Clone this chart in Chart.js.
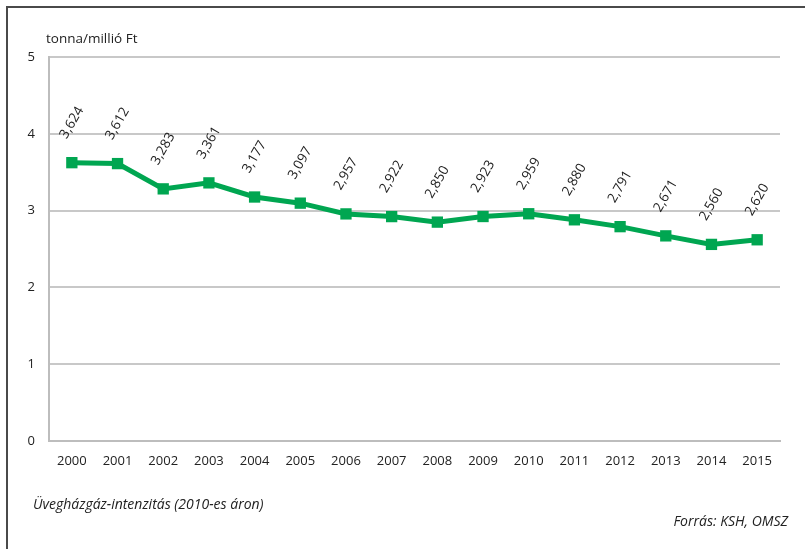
<!DOCTYPE html>
<html lang="hu">
  <head>
    <meta charset="UTF-8" />
    <title>Üvegházgáz-intenzitás</title>
    <script src="https://cdn.jsdelivr.net/npm/chart.js"></script>
    <style>
      body {
        margin: 0;
        background: #ffffff;
        font-family: "Open Sans", sans-serif;
        color: #222;
      }
      .wrap {
        position: relative;
        width: 805px;
        height: 549px;
        overflow: hidden;
      }
      .frame {
        position: absolute;
        left: 6px;
        top: 6px;
        width: 820px;
        height: 560px;
        border-left: 2px solid #4a4a4a;
        border-top: 2px solid #4a4a4a;
      }
      canvas {
        position: absolute;
        left: 0;
        top: 0;
      }
      .unit {
        position: absolute;
        left: 46px;
        top: 29px;
        font-size: 13.5px;
      }
      .note {
        position: absolute;
        left: 33px;
        top: 494px;
        font-size: 14px;
        font-style: italic;
      }
      .source {
        position: absolute;
        right: 17px;
        top: 511px;
        font-size: 14px;
        font-style: italic;
      }
    </style>
  </head>
  <body>
    <div class="wrap">
      <div class="frame"></div>
      <canvas id="grafikon" width="805" height="549"></canvas>
      <div class="unit">tonna/millió Ft</div>
      <div class="note">Üvegházgáz-intenzitás (2010-es áron)</div>
      <div class="source">Forrás: KSH, OMSZ</div>
    </div>

    <script>
      // Évek és intenzitás értékek
      const evek = ["2000", "2001", "2002", "2003", "2004", "2005", "2006", "2007",
        "2008", "2009", "2010", "2011", "2012", "2013", "2014", "2015"];
      const intenzitas = [3.624, 3.612, 3.283, 3.361, 3.177, 3.097, 2.957, 2.922,
        2.85, 2.923, 2.959, 2.88, 2.791, 2.671, 2.56, 2.62];

      const zold = "#00a651";

      // Elforgatott értékcímkék a pontok fölött
      const cimkek = {
        id: "cimkek",
        afterDatasetsDraw(chart) {
          const ctx = chart.ctx;
          const meta = chart.getDatasetMeta(0);
          ctx.save();
          ctx.font = "13.5px 'Open Sans', sans-serif";
          ctx.fillStyle = "#222";
          ctx.textAlign = "center";
          ctx.textBaseline = "middle";
          meta.data.forEach((pont, i) => {
            const szoveg = intenzitas[i].toFixed(3).replace(".", ",");
            ctx.save();
            ctx.translate(pont.x, pont.y - 40);
            ctx.rotate(-Math.PI / 3);
            ctx.fillText(szoveg, 0, 0);
            ctx.restore();
          });
          ctx.restore();
        },
      };

      new Chart(document.getElementById("grafikon"), {
        type: "line",
        data: {
          labels: evek,
          datasets: [
            {
              data: intenzitas,
              borderColor: zold,
              backgroundColor: zold,
              borderWidth: 5,
              pointStyle: "rect",
              pointRadius: 8,
              pointBorderWidth: 0,
              tension: 0,
              fill: false,
            },
          ],
        },
        options: {
          responsive: false,
          animation: false,
          layout: {
            padding: { left: 0, right: 25, top: 57, bottom: 78 },
          },
          plugins: {
            legend: { display: false },
            tooltip: { enabled: false },
          },
          scales: {
            x: {
              offset: true,
              afterFit: (s) => { s.height = 30; },
              grid: { display: false, drawTicks: false },
              border: { display: true, color: "#bdbdbd", width: 2 },
              ticks: {
                color: "#222",
                padding: 12,
                maxRotation: 0,
                font: { family: "'Open Sans', sans-serif", size: 13 },
              },
            },
            y: {
              min: 0,
              max: 5,
              afterFit: (s) => { s.width = 49; },
              grid: { color: "#c8c8c8", lineWidth: 2, drawTicks: false },
              border: { display: true, color: "#bdbdbd", width: 2 },
              ticks: {
                stepSize: 1,
                color: "#222",
                padding: 14,
                font: { family: "'Open Sans', sans-serif", size: 13 },
              },
            },
          },
        },
        plugins: [cimkek],
      });
    </script>
  </body>
</html>
